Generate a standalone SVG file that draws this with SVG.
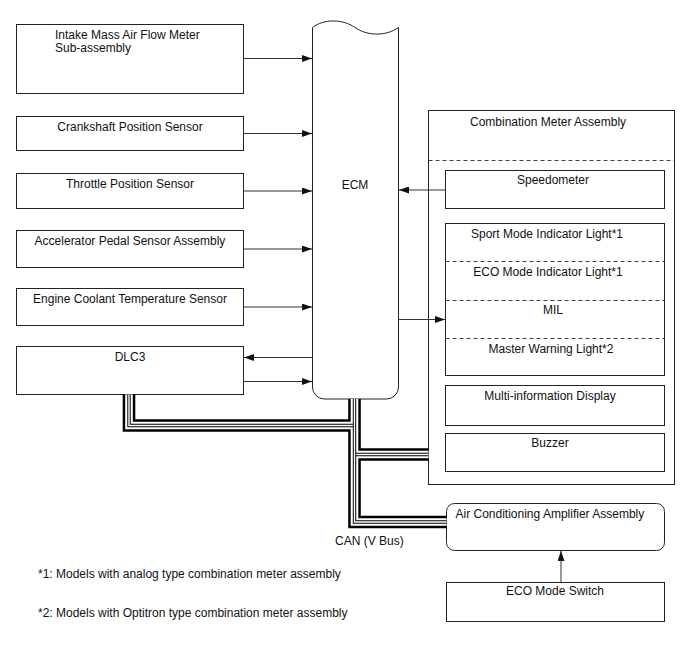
<svg xmlns="http://www.w3.org/2000/svg" xmlns:xlink="http://www.w3.org/1999/xlink" width="688" height="658" viewBox="0 0 688 658">
<defs>
<style>
.box{fill:#fff;stroke:#222;stroke-width:1}
.t{font-family:"Liberation Sans",Arial,sans-serif;font-size:12px;fill:#111}
.m{text-anchor:middle}
.dash{stroke:#444;stroke-width:1;stroke-dasharray:4 3;fill:none}
.ln{stroke:#333;stroke-width:1;fill:none}
.c1{stroke:#000;stroke-width:12.6;fill:none;stroke-linejoin:miter}
.c2{stroke:#fff;stroke-width:7.6;fill:none;stroke-linejoin:miter}
.c3{stroke:#000;stroke-width:3.4;fill:none;stroke-linejoin:miter}
.c4{stroke:#fff;stroke-width:1.4;fill:none;stroke-linejoin:miter}
</style>
<marker id="ah" markerUnits="userSpaceOnUse" markerWidth="10" markerHeight="7" refX="10" refY="3.5" orient="auto">
<path d="M0,0 L10,3.5 L0,7 Z" fill="#111"/>
</marker>
<path id="can" d="M129,394.5 V425.5 H352.8 M354.5,399 V522 H446.5 M356.2,454.5 H428.5"/>
</defs>
<rect width="688" height="658" fill="#fff"/>

<g id="intake">
<rect class="box" x="16.5" y="24.5" width="227" height="69"/>
<text class="t" x="55" y="38.5">Intake Mass Air Flow Meter</text>
<text class="t" x="55" y="52">Sub-assembly</text>
</g>
<g id="crankshaft">
<rect class="box" x="16.5" y="116.5" width="227" height="34"/>
<text class="t m" x="130" y="131">Crankshaft Position Sensor</text>
</g>
<g id="throttle">
<rect class="box" x="16.5" y="173.5" width="227" height="35"/>
<text class="t m" x="130" y="188">Throttle Position Sensor</text>
</g>
<g id="accelerator">
<rect class="box" x="16.5" y="230.5" width="227" height="37"/>
<text class="t m" x="130" y="245">Accelerator Pedal Sensor Assembly</text>
</g>
<g id="coolant">
<rect class="box" x="16.5" y="288.5" width="227" height="37"/>
<text class="t m" x="130" y="303">Engine Coolant Temperature Sensor</text>
</g>
<g id="dlc3">
<rect class="box" x="16.5" y="346.5" width="227" height="48"/>
<text class="t m" x="130" y="361">DLC3</text>
</g>

<g id="ecm">
<path class="box" d="M312.5,27.5 C324,18.5 343,19 355,27.5 C367,36 386,36.5 398.5,27.5 V387 A12,12 0 0 1 386.5,399 H324.5 A12,12 0 0 1 312.5,387 Z"/>
<text class="t m" x="355" y="189">ECM</text>
</g>

<g id="combination-meter">
<rect class="box" x="428.5" y="110.5" width="246" height="374"/>
<text class="t" x="470" y="126">Combination Meter Assembly</text>
<line class="dash" x1="428.5" y1="160.5" x2="674.5" y2="160.5"/>
</g>
<g id="speedometer">
<rect class="box" x="445.5" y="170.5" width="219" height="38"/>
<text class="t m" x="553" y="184">Speedometer</text>
</g>
<g id="indicators">
<rect class="box" x="445.5" y="223.5" width="219" height="152"/>
<line class="dash" x1="445.5" y1="261.5" x2="664.5" y2="261.5"/>
<line class="dash" x1="445.5" y1="300.5" x2="664.5" y2="300.5"/>
<line class="dash" x1="445.5" y1="338.5" x2="664.5" y2="338.5"/>
<text class="t m" x="547" y="237.5">Sport Mode Indicator Light*1</text>
<text class="t m" x="548" y="276">ECO Mode Indicator Light*1</text>
<text class="t m" x="553" y="314">MIL</text>
<text class="t m" x="551" y="352.5">Master Warning Light*2</text>
</g>
<g id="multi-display">
<rect class="box" x="445.5" y="385.5" width="219" height="40"/>
<text class="t m" x="550" y="399.5">Multi-information Display</text>
</g>
<g id="buzzer">
<rect class="box" x="445.5" y="433.5" width="219" height="38"/>
<text class="t m" x="550" y="447">Buzzer</text>
</g>
<g id="ac-amplifier">
<rect class="box" x="446.5" y="503.5" width="218" height="47" rx="8"/>
<text class="t" x="455.5" y="518">Air Conditioning Amplifier Assembly</text>
</g>
<g id="eco-switch">
<rect class="box" x="446.5" y="582.5" width="218" height="39"/>
<text class="t m" x="555" y="595">ECO Mode Switch</text>
</g>

<g id="connectors">
<line class="ln" x1="243.5" y1="58.5" x2="312" y2="58.5" marker-end="url(#ah)"/>
<line class="ln" x1="243.5" y1="133.5" x2="312" y2="133.5" marker-end="url(#ah)"/>
<line class="ln" x1="243.5" y1="191" x2="312" y2="191" marker-end="url(#ah)"/>
<line class="ln" x1="243.5" y1="249" x2="312" y2="249" marker-end="url(#ah)"/>
<line class="ln" x1="243.5" y1="307" x2="312" y2="307" marker-end="url(#ah)"/>
<line class="ln" x1="312.5" y1="357.5" x2="244" y2="357.5" marker-end="url(#ah)"/>
<line class="ln" x1="243.5" y1="381.5" x2="312" y2="381.5" marker-end="url(#ah)"/>
<line class="ln" x1="445.5" y1="190" x2="399" y2="190" marker-end="url(#ah)"/>
<line class="ln" x1="398.5" y1="319.5" x2="445" y2="319.5" marker-end="url(#ah)"/>
<line class="ln" x1="561" y1="582.5" x2="561" y2="551" marker-end="url(#ah)"/>
<g id="can-bus">
<use xlink:href="#can" class="c1"/>
<use xlink:href="#can" class="c2"/>
<use xlink:href="#can" class="c3"/>
<use xlink:href="#can" class="c4"/>
</g>
<text class="t" x="335" y="545">CAN (V Bus)</text>
</g>

<g id="notes">
<text class="t" x="38" y="578">*1: Models with analog type combination meter assembly</text>
<text class="t" x="38" y="617">*2: Models with Optitron type combination meter assembly</text>
</g>
</svg>
